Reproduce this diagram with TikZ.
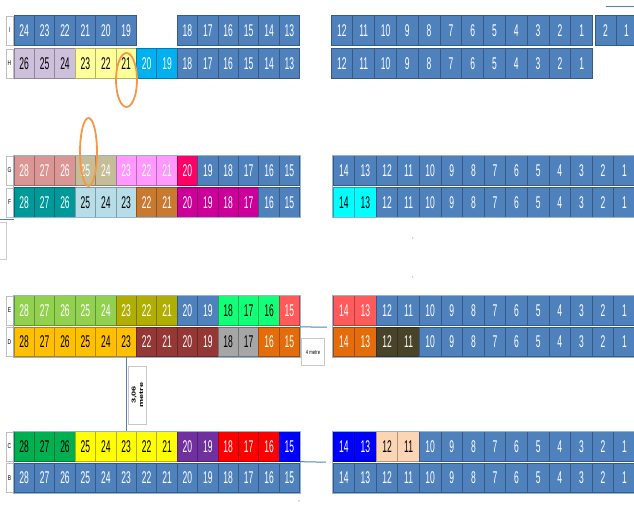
\documentclass[tikz,border=0pt]{standalone}
\usepackage{fontspec}
\setmainfont{Liberation Sans}
\usepackage{graphicx}
\usepackage{tikz}
\usetikzlibrary{positioning}
\definecolor{seatblue}{HTML}{4F81BD}
\definecolor{lavender}{HTML}{CCC0DA}
\definecolor{paleyellow}{HTML}{FFFF99}
\definecolor{skyblue}{HTML}{00B0F0}
\definecolor{rose}{HTML}{DA9694}
\definecolor{tan}{HTML}{C4BD97}
\definecolor{pink}{HTML}{FF99FF}
\definecolor{hotpink}{HTML}{FF0066}
\definecolor{teal}{HTML}{009999}
\definecolor{lightblue}{HTML}{B7DEE8}
\definecolor{bronze}{HTML}{C87A30}
\definecolor{magenta}{HTML}{CC0099}
\definecolor{cyan}{HTML}{00FFFF}
\definecolor{lightgreen}{HTML}{92D050}
\definecolor{olive}{HTML}{B0AE00}
\definecolor{mint}{HTML}{14FF78}
\definecolor{salmon}{HTML}{FF5B5B}
\definecolor{amber}{HTML}{FFC000}
\definecolor{maroon}{HTML}{953735}
\definecolor{gray}{HTML}{A6A6A6}
\definecolor{orange}{HTML}{E46C0A}
\definecolor{darkolive}{HTML}{494429}
\definecolor{green}{HTML}{00B050}
\definecolor{yellow}{HTML}{FFFF00}
\definecolor{purple}{HTML}{7030A0}
\definecolor{red}{HTML}{FF0000}
\definecolor{pureblue}{HTML}{0000FF}
\definecolor{peach}{HTML}{FCD5B4}
\definecolor{ringorange}{HTML}{F79646}
\definecolor{lineblue}{HTML}{4F81BD}
\definecolor{frameblue}{HTML}{95B3D7}
\tikzset{
  seat/.style       = {rectangle, fill=#1, draw=#1!70!black, line width=0.8pt,
                       minimum height=29.5pt, inner sep=0pt,
                       font=\fontsize{17}{17}\selectfont},
  rowtag/.style     = {rectangle, draw=black!25, fill=white, line width=0.8pt,
                       minimum width=7pt, minimum height=29pt, inner sep=0pt,
                       font=\fontsize{7}{7}\selectfont},
  note/.style       = {rectangle, draw=black!22, fill=white, line width=1pt,
                       align=center, inner sep=1pt},
  speck/.style      = {inner sep=0pt, font=\fontsize{3}{3}\selectfont},
  ring/.style       = {draw=ringorange, line width=1.8pt},
  gapline/.style    = {draw=lineblue, line width=1pt},
  blockframe/.style = {draw=frameblue, line width=1pt},
}
% one run of seats of one colour: row, left x, cell width, centre y, first column, fill, text, numbers
\newcommand\seatrun[8]{%
  \foreach \n [count=\i from #5] in {#8}
    \node[seat=#6, text=#7, minimum width=#3pt] (#1-\n) at ({#2+(\i+0.5)*#3}, #4)
      {\scalebox{0.5}[1]{\n}};%
}

\begin{document}
\begin{tikzpicture}[x=1pt, y=-1pt]
  \useasboundingbox (0,0) rectangle (634,506);

  % row labels
  \foreach \r/\y in {I/30.5, H/63.5, G/170.5, F/202.5, E/310.5, D/342, C/446.5, B/478}
    \node[rowtag] (tag-\r) at (9.5,\y) {\scalebox{0.7}[1]{\r}};

  % row I
  \seatrun{I}{14}{20.4}{30.5}{0}{seatblue}{white}{24,23,22,21,20,19}
  \seatrun{I}{14}{20.4}{30.5}{8}{seatblue}{white}{18,17,16,15,14,13}
  \seatrun{I}{331}{21.8}{30.5}{0}{seatblue}{white}{12,11,10,9,8,7,6,5,4,3,2,1}
  \seatrun{Ix}{595}{21}{30.5}{0}{seatblue}{white}{2,1}

  % row H
  \seatrun{H}{14}{20.4}{63.5}{0}{lavender}{black}{26,25,24}
  \seatrun{H}{14}{20.4}{63.5}{3}{paleyellow}{black}{23,22,21}
  \seatrun{H}{14}{20.4}{63.5}{6}{skyblue}{white}{20,19}
  \seatrun{H}{14}{20.4}{63.5}{8}{seatblue}{white}{18,17,16,15,14,13}
  \seatrun{H}{331}{21.8}{63.5}{0}{seatblue}{white}{12,11,10,9,8,7,6,5,4,3,2,1}

  % row G
  \seatrun{G}{14}{20.4}{170.5}{0}{rose}{white}{28,27,26}
  \seatrun{G}{14}{20.4}{170.5}{3}{tan}{white}{25,24}
  \seatrun{G}{14}{20.4}{170.5}{5}{pink}{white}{23,22,21}
  \seatrun{G}{14}{20.4}{170.5}{8}{hotpink}{white}{20}
  \seatrun{G}{14}{20.4}{170.5}{9}{seatblue}{white}{19,18,17,16,15}
  \seatrun{G}{333}{21.6}{170.5}{0}{seatblue}{white}{14,13,12,11,10,9,8,7,6,5,4,3,2,1}

  % row F
  \seatrun{F}{14}{20.4}{202.5}{0}{teal}{white}{28,27,26}
  \seatrun{F}{14}{20.4}{202.5}{3}{lightblue}{black}{25,24,23}
  \seatrun{F}{14}{20.4}{202.5}{6}{bronze}{white}{22,21}
  \seatrun{F}{14}{20.4}{202.5}{8}{magenta}{white}{20,19,18,17}
  \seatrun{F}{14}{20.4}{202.5}{12}{seatblue}{white}{16,15}
  \seatrun{F}{333}{21.6}{202.5}{0}{cyan}{black}{14,13}
  \seatrun{F}{333}{21.6}{202.5}{2}{seatblue}{white}{12,11,10,9,8,7,6,5,4,3,2,1}

  % row E
  \seatrun{E}{14}{20.4}{310.5}{0}{lightgreen}{white}{28,27,26,25,24}
  \seatrun{E}{14}{20.4}{310.5}{5}{olive}{white}{23,22,21}
  \seatrun{E}{14}{20.4}{310.5}{8}{seatblue}{white}{20,19}
  \seatrun{E}{14}{20.4}{310.5}{10}{mint}{black}{18,17,16}
  \seatrun{E}{14}{20.4}{310.5}{13}{salmon}{white}{15}
  \seatrun{E}{333}{21.6}{310.5}{0}{salmon}{white}{14,13}
  \seatrun{E}{333}{21.6}{310.5}{2}{seatblue}{white}{12,11,10,9,8,7,6,5,4,3,2,1}

  % row D
  \seatrun{D}{14}{20.4}{342}{0}{amber}{black}{28,27,26,25,24,23}
  \seatrun{D}{14}{20.4}{342}{6}{maroon}{white}{22,21,20,19}
  \seatrun{D}{14}{20.4}{342}{10}{gray}{black}{18,17}
  \seatrun{D}{14}{20.4}{342}{12}{orange}{white}{16,15}
  \seatrun{D}{333}{21.6}{342}{0}{orange}{white}{14,13}
  \seatrun{D}{333}{21.6}{342}{2}{darkolive}{white}{12,11}
  \seatrun{D}{333}{21.6}{342}{4}{seatblue}{white}{10,9,8,7,6,5,4,3,2,1}

  % row C
  \seatrun{C}{14}{20.4}{446.5}{0}{green}{black}{28,27,26}
  \seatrun{C}{14}{20.4}{446.5}{3}{yellow}{black}{25,24,23,22,21}
  \seatrun{C}{14}{20.4}{446.5}{8}{purple}{white}{20,19}
  \seatrun{C}{14}{20.4}{446.5}{10}{red}{white}{18,17,16}
  \seatrun{C}{14}{20.4}{446.5}{13}{pureblue}{white}{15}
  \seatrun{C}{333}{21.6}{446.5}{0}{pureblue}{white}{14,13}
  \seatrun{C}{333}{21.6}{446.5}{2}{peach}{black}{12,11}
  \seatrun{C}{333}{21.6}{446.5}{4}{seatblue}{white}{10,9,8,7,6,5,4,3,2,1}

  % row B
  \seatrun{B}{14}{20.4}{478}{0}{seatblue}{white}{28,27,26,25,24,23,22,21,20,19,18,17,16,15}
  \seatrun{B}{333}{21.6}{478}{0}{seatblue}{white}{14,13,12,11,10,9,8,7,6,5,4,3,2,1}

  % frames round the pairs of rows
  \draw[blockframe] (G-28.north west) rectangle (F-15.south east);
  \draw[blockframe] (E-28.north west) rectangle (D-15.south east);
  \draw[blockframe] (C-28.north west) rectangle (B-15.south east);
  \draw[blockframe] (G-14.north west) rectangle (F-1.south east);
  \draw[blockframe] (E-14.north west) rectangle (D-1.south east);
  \draw[blockframe] (C-14.north west) rectangle (B-1.south east);

  % distances
  \coordinate (gapE) at (327,327.2);
  \coordinate (gapC) at (326,462.2);
  \coordinate (edgeF) at (0,219.5);
  \coordinate (topA) at (606,6);
  \coordinate (topB) at (634,6);
  \draw[gapline] (D-15.north east) -- (gapE);
  \draw[gapline] (C-15.south east) -- (gapC);
  \draw[gapline] (D-23.south) -- (C-23.north);
  \draw[gapline] (edgeF) -- (edgeF -| F-28.west);
  \draw[gapline] (topA) -- (topB);

  \node[note, rotate=90, minimum width=58pt, minimum height=18pt,
        font=\fontsize{7}{7.5}\selectfont\bfseries] (len-DC) at (137.5,395)
       {\scalebox{1.3}[0.8]{3,06}\\\scalebox{1.3}[0.8]{metre}};
  \node[note, minimum width=23pt, minimum height=27pt,
        font=\fontsize{6}{6}\selectfont] (len-ED) at (313,352) {\scalebox{0.7}[1]{4 metre}};
  \node[rectangle, draw=black!20, fill=white, line width=0.8pt, minimum width=7pt,
        minimum height=37pt, inner sep=0pt] (side) at (3,240.5) {};

  % stray marks
  \node[speck, text=brown] (mark-a) at (413,238) {1};
  \node[speck, text=brown] (mark-b) at (413,277) {1};
  \node[speck, text=black!60] (mark-c) at (299,502) {¤};

  % marked seats
  \draw[ring] (126.5,80) ellipse [x radius=10.5, y radius=27];
  \draw[ring] (88.5,152) ellipse [x radius=8.5, y radius=34];
\end{tikzpicture}
\end{document}
